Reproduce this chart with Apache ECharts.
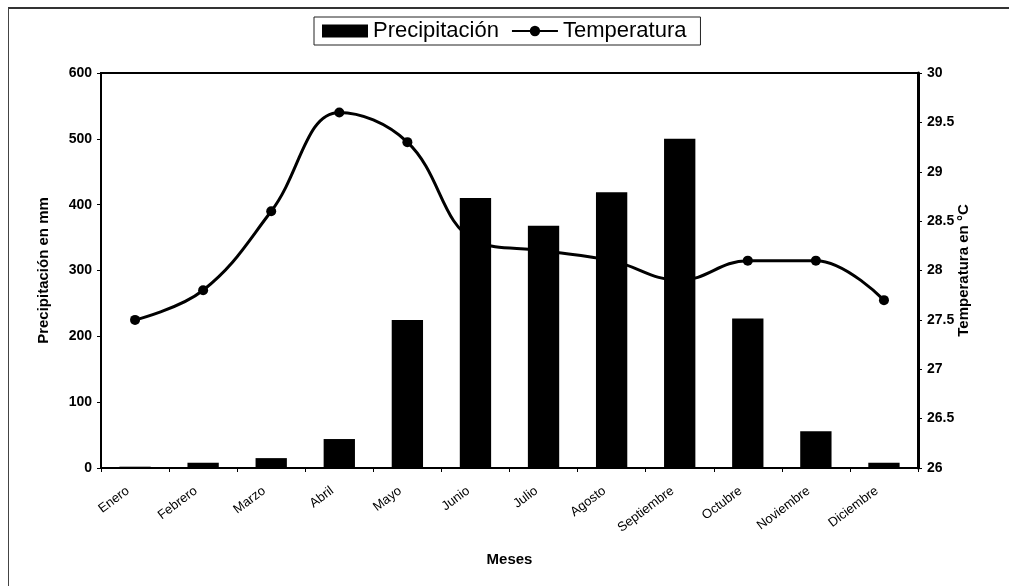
<!DOCTYPE html>
<html lang="es">

<head>
    <meta charset="UTF-8">
    <style>
    html,
    body {
        height: 100%;
        margin: 0;
        background: #fff;
    }
    #frame {
        position: absolute;
        left: 8px;
        top: 7px;
        right: 0;
        bottom: 0;
        border-left: 1px solid #444;
        border-top: 2px solid #333;
    }
  </style>
</head>

<body>
<div id="frame"></div>
<div id="chart" style="position:absolute;left:0;top:0;width:1009px;height:586px;"></div>
<script src="https://cdn.jsdelivr.net/npm/echarts@6/dist/echarts.min.js"></script>
<script>
    var meses = ['Enero', 'Febrero', 'Marzo', 'Abril', 'Mayo', 'Junio', 'Julio',
        'Agosto', 'Septiembre', 'Octubre', 'Noviembre', 'Diciembre'];
    var precipitacion = [2, 8, 15, 44, 225, 410, 368, 419, 500, 227, 56, 8];
    var temperatura = [27.5, 27.8, 28.6, 29.6, 29.3, 28.3, 28.2, 28.1, 27.9, 28.1, 28.1, 27.7];

    var fuente = '"Liberation Sans", Arial, sans-serif';
    var tituloEje = {fontFamily: fuente, fontSize: 15, fontWeight: 'bold', color: '#000'};

    var myChart = echarts.init(document.getElementById('chart'));
    myChart.setOption({
        animation: false,
        textStyle: {fontFamily: fuente, color: '#000'},
        legend: {
            top: 17,
            left: 314,
            padding: [3, 14, 3, 8],
            borderColor: '#222',
            borderWidth: 1,
            itemGap: 12,
            itemWidth: 46,
            itemHeight: 13,
            textStyle: {fontFamily: fuente, fontSize: 22, color: '#000'},
            data: [
                {name: 'Precipitación', icon: 'rect'},
                {name: 'Temperatura'}
            ]
        },
        grid: {
            left: 101,
            right: 91,
            top: 73,
            bottom: 118,
            show: true,
            borderColor: '#000',
            borderWidth: 2
        },
        xAxis: {
            type: 'category',
            data: meses,
            name: 'Meses',
            nameLocation: 'middle',
            nameGap: 84,
            nameTextStyle: tituloEje,
            axisLine: {lineStyle: {color: '#000', width: 2}},
            axisTick: {show: true, length: 4, lineStyle: {color: '#000'}},
            axisLabel: {rotate: 37, fontSize: 13, color: '#000', margin: 16, padding: [0, 9, 0, 0]}
        },
        yAxis: [{
            type: 'value',
            name: 'Precipitación en mm',
            nameLocation: 'middle',
            nameGap: 50,
            nameTextStyle: tituloEje,
            min: 0,
            max: 600,
            interval: 100,
            splitLine: {show: false},
            axisLine: {show: true, lineStyle: {color: '#000', width: 2}},
            axisTick: {show: true, length: 4, lineStyle: {color: '#000'}},
            axisLabel: {fontSize: 14, fontWeight: 'bold', color: '#000', margin: 9}
        }, {
            type: 'value',
            name: 'Temperatura en °C',
            nameLocation: 'middle',
            nameGap: 38,
            nameMoveOverlap: false,
            nameTextStyle: tituloEje,
            min: 26,
            max: 30,
            interval: 0.5,
            splitLine: {show: false},
            axisLine: {show: true, lineStyle: {color: '#000', width: 3}},
            axisTick: {show: true, length: 4, lineStyle: {color: '#000'}},
            axisLabel: {fontSize: 14, fontWeight: 'bold', color: '#000', margin: 9}
        }],
        series: [{
            name: 'Precipitación',
            type: 'bar',
            data: precipitacion,
            barWidth: '46%',
            z: 3,
            itemStyle: {color: '#000'}
        }, {
            name: 'Temperatura',
            type: 'line',
            yAxisIndex: 1,
            data: temperatura,
            smooth: 0.4,
            z: 2,
            symbol: 'circle',
            symbolSize: 10,
            lineStyle: {color: '#000', width: 3},
            itemStyle: {color: '#000'}
        }]
    });
</script>
</body>
</html>
